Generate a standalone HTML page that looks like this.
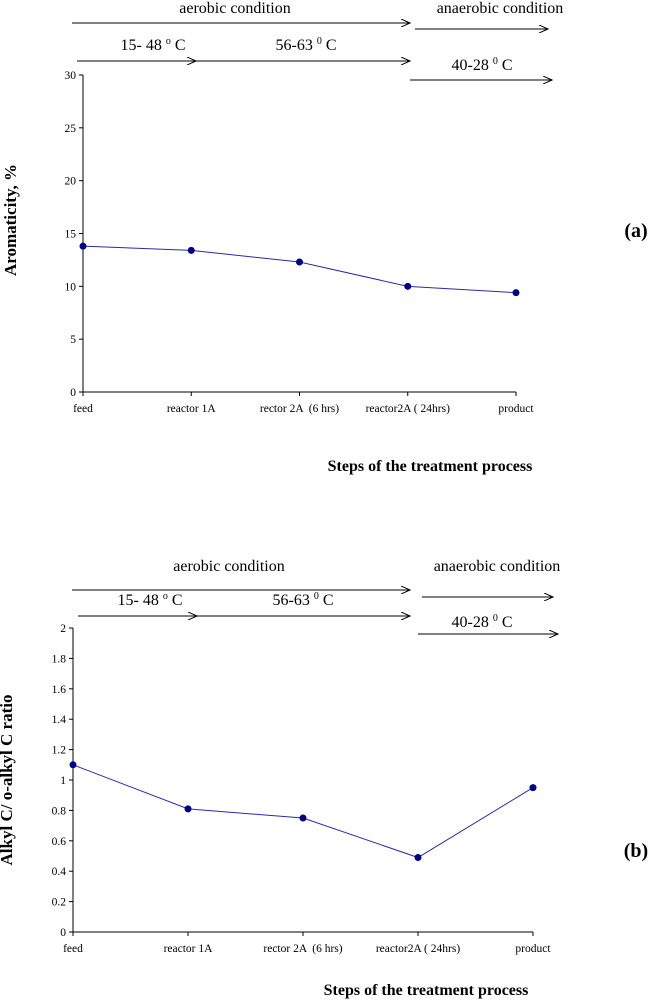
<!DOCTYPE html>
<html><head><meta charset="utf-8"><style>
body{margin:0;background:#fff}
svg{display:block;font-family:"Liberation Serif",serif}
text{white-space:pre}
</style></head><body>
<svg id="s" width="651" height="1000" viewBox="0 0 651 1000">
<defs><marker id="ar" markerWidth="10" markerHeight="8" refX="9" refY="4" orient="auto" markerUnits="userSpaceOnUse"><path d="M0,0 L9,4 L0,8" fill="none" stroke="#000" stroke-width="1"/></marker></defs>
</svg>
<script>
const categories=["feed","reactor 1A","rector 2A  (6 hrs)","reactor2A ( 24hrs)","product"];
const seriesA=[13.8,13.4,12.3,10.0,9.4];
const ticksA=[0,5,10,15,20,25,30];
const seriesB=[1.1,0.81,0.75,0.49,0.95];
const ticksB=[0,0.2,0.4,0.6,0.8,1,1.2,1.4,1.6,1.8,2];
const NS="http://www.w3.org/2000/svg";
const svg=document.getElementById('s');
function el(t,a,txt){const e=document.createElementNS(NS,t);for(const k in a)e.setAttribute(k,a[k]);if(txt!=null)e.textContent=txt;svg.appendChild(e);return e;}
function arrow(x1,x2,y,name){const e=el('line',{x1:x1,y1:y,x2:x2,y2:y,stroke:'#000','stroke-width':1,'marker-end':'url(#ar)'});

}
function text(x,y,s,name,opt){const e=el('text',Object.assign({x:x,y:y,'font-size':16,'text-anchor':'middle'},opt||{}),s);

return e;}
function chart(p){
 const xs=i=>p.left+(p.right-p.left)*i/(categories.length-1);
 const ys=v=>p.bottom-(p.bottom-p.top)*v/p.max;
 const ax=el('line',{x1:p.left,y1:p.top,x2:p.left,y2:p.bottom,stroke:'#000','stroke-width':1});
 
 
 const bx=el('line',{x1:p.left,y1:p.bottom,x2:p.right,y2:p.bottom,stroke:'#000','stroke-width':1});
 
 
 p.ticks.forEach(t=>{const y=ys(t);
  el('line',{x1:p.left-4,y1:y,x2:p.left,y2:y,stroke:'#000'});
  text(p.left-7,y+4,String(t),'y-tick-label',{'font-size':11.5,'text-anchor':'end'});});
 categories.forEach((c,i)=>{const x=xs(i);
  el('line',{x1:x,y1:p.bottom,x2:x,y2:p.bottom+4,stroke:'#000'});
  text(x,p.bottom+20,c,'x-tick-label',{'font-size':11.5});});
 const pts=p.data.map((v,i)=>xs(i)+','+ys(v)).join(' ');
 const pl=el('polyline',{points:pts,fill:'none',stroke:'#2a2aa8','stroke-width':1});
 
 
 p.data.forEach((v,i)=>{const c=el('circle',{cx:xs(i),cy:ys(v),r:3.5,fill:'#000080'});
  
  });
}
chart({left:83,right:516,top:75,bottom:392,max:30,ticks:ticksA,data:seriesA});
text(235,13,'aerobic condition','aerobic-label');
arrow(72,410,23,'aerobic-arrow');
text(500,13,'anaerobic condition','anaerobic-label');
arrow(415,548,29,'anaerobic-arrow');
text(153,50,'','temp-label-1').innerHTML='15- 48 <tspan font-size="10" dy="-6">o</tspan><tspan dy="6"> C</tspan>';
arrow(77,196,61,'temp-arrow-1');
text(306,50,'','temp-label-2').innerHTML='56-63 <tspan font-size="10" dy="-6">0</tspan><tspan dy="6"> C</tspan>';
arrow(196,410,61,'temp-arrow-2');
text(482,70,'','temp-label-3').innerHTML='40-28 <tspan font-size="10" dy="-6">0</tspan><tspan dy="6"> C</tspan>';
arrow(410,552,80,'temp-arrow-3');
text(16,220,'Aromaticity, %','y-axis-title',{'font-weight':'bold','font-size':17,transform:'rotate(-90 16 220)'});
text(636,237,'(a)','panel-label-a',{'font-weight':'bold','font-size':20});
text(430,471,'Steps of the treatment process','x-axis-title',{'font-weight':'bold'});
chart({left:73,right:533,top:628,bottom:932,max:2,ticks:ticksB,data:seriesB});
text(229,571,'aerobic condition','aerobic-label');
arrow(72,410,590,'aerobic-arrow');
text(497,571,'anaerobic condition','anaerobic-label');
arrow(422,553,597,'anaerobic-arrow');
text(150,605,'','temp-label-1').innerHTML='15- 48 <tspan font-size="10" dy="-6">o</tspan><tspan dy="6"> C</tspan>';
arrow(78,197,616,'temp-arrow-1');
text(303,605,'','temp-label-2').innerHTML='56-63 <tspan font-size="10" dy="-6">0</tspan><tspan dy="6"> C</tspan>';
arrow(197,410,616,'temp-arrow-2');
text(482,627,'','temp-label-3').innerHTML='40-28 <tspan font-size="10" dy="-6">0</tspan><tspan dy="6"> C</tspan>';
arrow(418,558,634,'temp-arrow-3');
text(12,780,'Alkyl C/ o-alkyl C ratio','y-axis-title',{'font-weight':'bold','font-size':17,transform:'rotate(-90 12 780)'});
text(636,857,'(b)','panel-label-b',{'font-weight':'bold','font-size':20});
text(426,995,'Steps of the treatment process','x-axis-title',{'font-weight':'bold'});
</script>
</body></html>
